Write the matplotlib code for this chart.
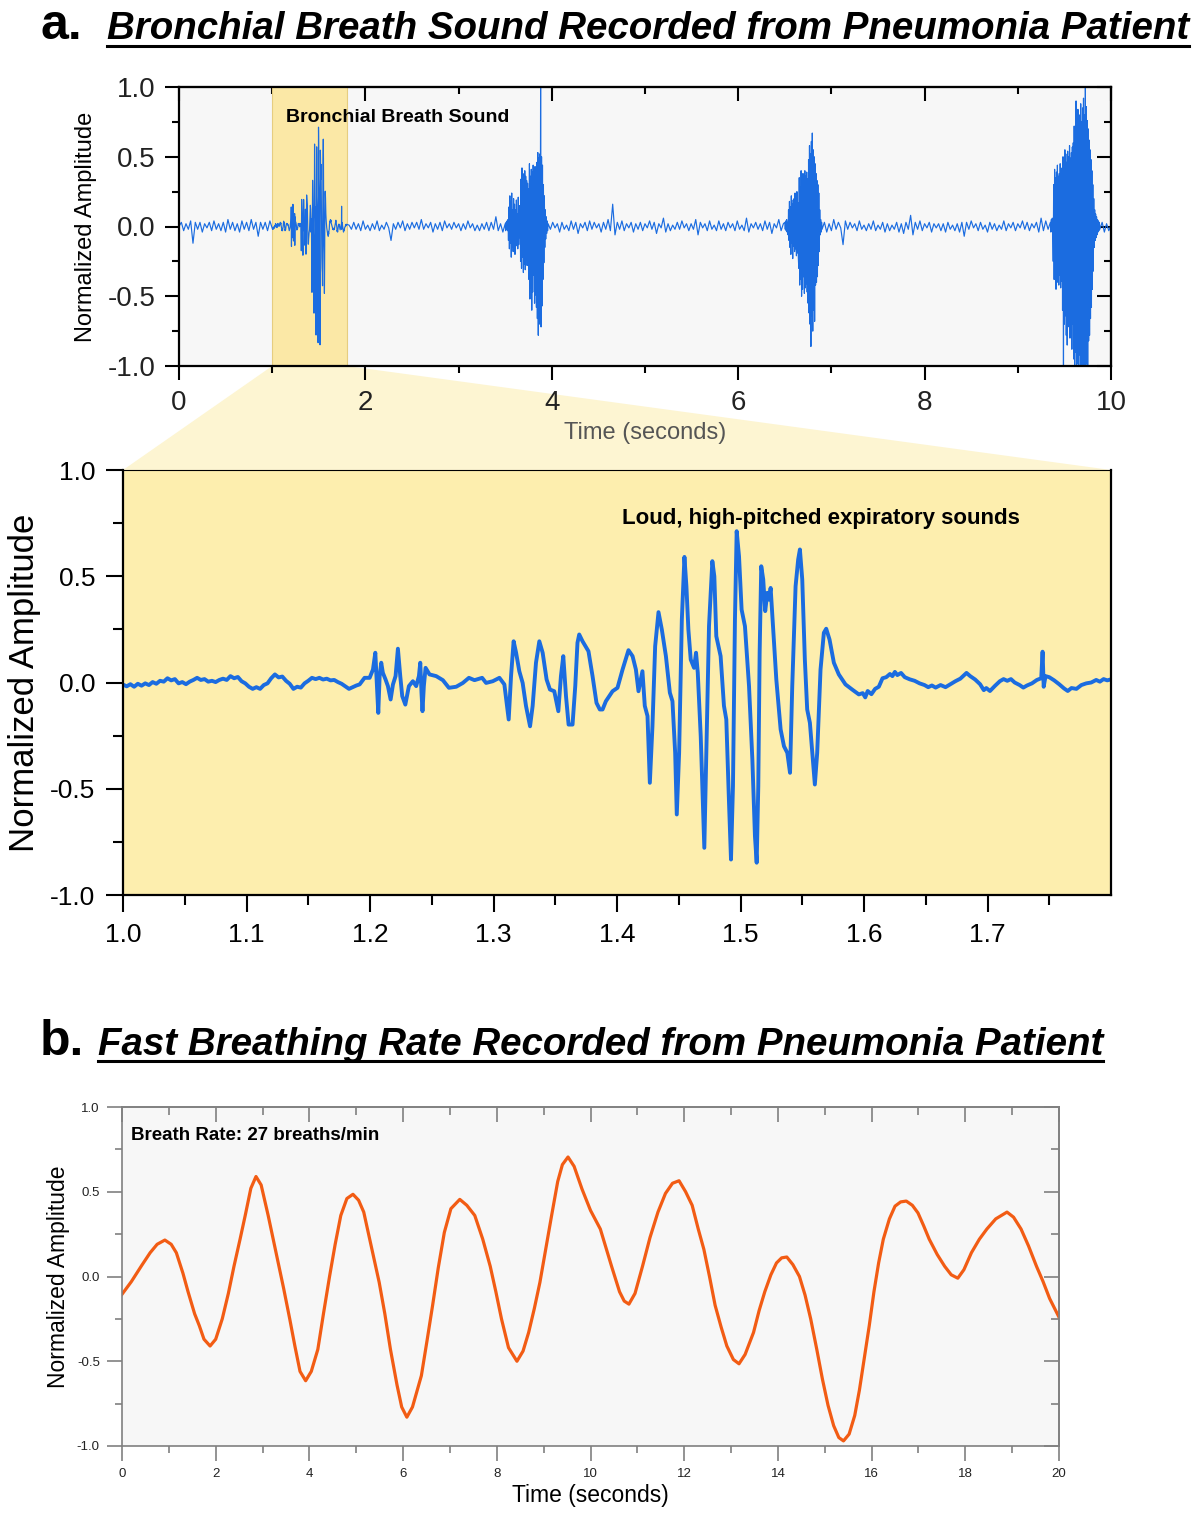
import numpy as np
import matplotlib
matplotlib.use("Agg")
import matplotlib.pyplot as plt
from matplotlib.patches import Polygon
from matplotlib.lines import Line2D
from matplotlib.ticker import MultipleLocator, FixedLocator, FormatStrFormatter

plt.rcParams["font.family"] = ["Liberation Sans", "DejaVu Sans"]

# ---------------------------------------------------------------
# Panel a (top): 10 s sound recording, values in 1/100 of full scale
# quiet stretches are sampled every 0.025 s, bursts every 0.005 s
# ---------------------------------------------------------------
quiet_a = [0, 3, -3, 2, -2, 4, -12, 3, -2, 3, -4, 2, -1, 3, -3, 4, -2, 2, -3, 3,
           -4, 5, -2, 3, -3, 2, -4, 4, -2, 3, -3, 5, -2, 3, -7, 3, -2, 3, -3, 4]
quiet_b = [1, -2, 3, -2, 2, -3, 4, -2, 1, -3, 2, -2, 4, -3, 1, -2, 3, -1, -10, 2,
           -2, 3, -1, 4, -3, 2, -2, 3, -1, 3, -2, 5, -2, 2, -1, 3, -4, 2, -2, 3,
           -3, 4, -1, 2, -2, 3, -1, 2, -3, 2, -2, 4, -1, 2, -3, 1, -3, 2, -2, 3,
           -3, 3, -2, 7, -3, 2, -4]
burst_2 = [2, -3, 3, -2, 4, -3, 5,
           -10, 14, -16, 22, -12, 18, -22, 24, -15, 12, -18, 20, -9, 16, -20, 12, -14, 19,
           -11, 9, -16, 21, -13, 15, -8, 11,
           -25, 34, -30, 42, -22, 38, -33, 29, -27, 40, -31, 36, -24, 33, -28, 31, -20, 27,
           -38, 45, -52, 36, -44, 41, -60, 39, -47, 44, -35, 40, -55, 43, -49, 38, -58, 46,
           -66, 53, -78, 49, -70, 52, -61, 100, -72, 50, -57, 44,
           -38, 30, -26, 22, -15, 12, -9, 7, -5, 4, -3, 2]
quiet_c = [-2, 3, -1, 2, -4, 3, -2, 1, -3, 4, -2, 3, -5, 2, -1, 3, -3, 4, -2, 3,
           -1, 2, -4, 3, -2, 5, -3, 16, -6, 3, -2, 4, -3, 2, -1, 3, -4, 2, -2, 3,
           -3, 2, -1, 4, -2, 3, -5, 2, -1, 6, -4, 2, -3, 1, -2, 3, -2, 4, -1, 2,
           -3, 2, -2, 5, -6, 3, -1, 2, -3, 4, -2, 1, -3, 4, -2, 2, -3, 3, -1, 2,
           -3, 4, -2, 1, -3, 6, -4, 2, -1, 3, -2, 2, -3, 4, -2, 3, -5, 2, -1, 5, -3, 2]
burst_3 = [3, -2, 4, -3, 5, -4, 3, -6,
           12, -10, 18, -15, 14, -20, 22, -12, 16, -23, 19, -14, 20, -18, 24, -16, 13,
           -21, 25, -19, 17, -22,
           -30, 35, -42, 28, -38, 40, -50, 33, -45, 38, -36, 31, -48, 40, -44, 36, -41,
           39, -47, 34,
           -55, 48, -62, 58, -70, 52, -86, 61, -64, 67, -75, 55, -60, 50, -68, 45,
           -42, 38, -40, 33, -36, 30, -28, 24, -18, 12,
           -6, 5, -4, 3, -2]
quiet_d = [3, -4, 2, -3, 5, -2, 3, -1, -13, 4, -2, 3, -1, 2, -3, 4, -2, 1, -3, 2,
           -2, 4, -3, 1, -2, 3, -4, 2, -3, 1, -2, 3, -4, 2, -5, 3, -2, 8, -6, 3,
           -2, 4, -3, 2, -1, 3, -4, 2, -1, 2, -3, 2, -4, 3, -2, 1, -3, 2, -4, 3,
           -7, 3, -2, 4, -1, 2, -3, 3, -2, 1, -4, 3, -2, 2, -3, 1, -2, 4, -3, 2,
           -1, 3, -3, 2, -1, 4, -2, 3, -3, 2, -1, 3, -4, 6, -3, 4, -2]
burst_4 = [3, -4, 5, -3, 6, -5,
           -25, 30, -38, 41, -30, 35, -45, 39, -33, 44, -40, 36, -42, 38, -35, 45, -44,
           33, -39, 42,
           -60, 50, -105, 48, -70, 55, -64, 52, -78, 46, -85, 54, -66, 50, -72, 58, -80,
           49, -75, 53, -88, 57, -70, 60,
           -95, 72, -105, 68, -90, 90, -105, 78, -98, 84, -105, 70, -92, 80, -105, 88,
           -100, 75, -105, 85, -96, 92, -105, 80, -102, 102, -105, 86, -98, 76, -105, 70,
           -82, 62, -78, 55, -66, 48, -58, 40, -45, 30, -32, 20,
           -15, 12, -10, 9, -8, 7, -6, 5, -4, 4, -3, 3, -2]
quiet_e = [3, -4, 2, -3, 1]

# (start, end) time of each stretch above, seconds
spans = [(0.0, 0.975), (1.825, 3.475), (3.50, 3.96), (3.985, 6.485),
         (6.50, 6.90), (6.925, 9.325), (9.35, 9.88), (9.905, 10.0)]

# zoomed bronchial breath sound, 1.0 - 1.8 s (time, amplitude)
zoom_pts = [
    # quiet lead-in
    (1.000, -0.010), (1.003, -0.018), (1.006, -0.008), (1.009, -0.020), (1.012, -0.006),
    (1.015, -0.015), (1.018, -0.004), (1.021, -0.012), (1.024, 0.002), (1.027, -0.006),
    (1.030, 0.008), (1.033, 0.004), (1.036, 0.020), (1.039, 0.010), (1.042, 0.016),
    (1.045, -0.004), (1.048, 0.002), (1.051, -0.008), (1.054, 0.004), (1.057, 0.012),
    (1.060, 0.022), (1.063, 0.012), (1.066, 0.016), (1.069, 0.004), (1.072, 0.008),
    (1.075, 0.002), (1.078, 0.012), (1.081, 0.018), (1.084, 0.012), (1.087, 0.030),
    (1.090, 0.020), (1.093, 0.026), (1.096, 0.006), (1.099, -0.004), (1.102, -0.020),
    (1.105, -0.030), (1.108, -0.022), (1.111, -0.030), (1.114, -0.012), (1.117, -0.004),
    (1.120, 0.020), (1.123, 0.038), (1.126, 0.024), (1.129, 0.028), (1.132, 0.008),
    (1.135, -0.006), (1.138, -0.030), (1.141, -0.020), (1.144, -0.024), (1.147, -0.004),
    (1.150, 0.008), (1.153, 0.022), (1.156, 0.016), (1.159, 0.022), (1.162, 0.014),
    (1.165, 0.018), (1.168, 0.010), (1.171, 0.012), (1.174, 0.002), (1.177, -0.006),
    (1.180, -0.018), (1.183, -0.030), (1.186, -0.022), (1.189, -0.014),
    # first small crackles, 1.19 - 1.39
    (1.1916, -0.009), (1.1956, 0.022), (1.1997, 0.022), (1.2024, 0.061), (1.2043, 0.140),
    (1.2056, -0.017), (1.2067, -0.143), (1.2078, 0.030), (1.2091, 0.093), (1.2104, 0.046),
    (1.2126, 0.014), (1.2145, -0.017), (1.2167, -0.080), (1.2186, -0.009), (1.2207, 0.030),
    (1.2226, 0.159), (1.2245, 0.030), (1.2261, -0.064), (1.2286, -0.104), (1.2315, -0.017),
    (1.2347, 0.006), (1.2374, -0.017), (1.2396, 0.030), (1.2407, 0.093), (1.2417, -0.048),
    (1.2425, -0.135), (1.2436, -0.017), (1.2450, 0.069), (1.2482, 0.038), (1.2536, 0.030),
    (1.2590, 0.011), (1.2639, -0.025), (1.2698, -0.020), (1.2752, -0.002), (1.2801, 0.022),
    (1.2846, 0.011), (1.2908, 0.022), (1.2940, -0.002), (1.2994, 0.006), (1.3048, 0.022),
    (1.3088, -0.009), (1.3123, -0.174), (1.3142, 0.030), (1.3163, 0.194), (1.3183, 0.140),
    (1.3209, 0.053), (1.3236, -0.002), (1.3263, -0.110), (1.3296, -0.206), (1.3317, -0.110),
    (1.3344, 0.093), (1.3371, 0.194), (1.3398, 0.140), (1.3430, 0.014), (1.3457, -0.033),
    (1.3492, -0.041), (1.3525, -0.135), (1.3546, 0.030), (1.3565, 0.124), (1.3587, -0.064),
    (1.3608, -0.198), (1.3640, -0.198), (1.3662, -0.017), (1.3680, 0.187), (1.3694, 0.226),
    (1.3721, 0.194), (1.3769, 0.147), (1.3802, 0.030), (1.3834, -0.096), (1.3861, -0.127),
    (1.3883, -0.127),
    # loud expiratory burst, 1.39 - 1.60
    (1.3910, -0.088), (1.3964, -0.041), (1.4004, -0.025), (1.4045, 0.061), (1.4093, 0.152),
    (1.4126, 0.124), (1.4153, 0.061), (1.4174, -0.041), (1.4193, 0.014), (1.4206, 0.053),
    (1.4225, -0.110), (1.4247, -0.158), (1.4266, -0.472), (1.4287, -0.206), (1.4309, 0.171),
    (1.4336, 0.331), (1.4363, 0.249), (1.4396, 0.124), (1.4428, -0.048), (1.4449, -0.088),
    (1.4471, -0.331), (1.4484, -0.621), (1.4503, -0.331), (1.4525, 0.296), (1.4546, 0.591),
    (1.4562, 0.453), (1.4578, 0.249), (1.4597, 0.108), (1.4624, 0.069), (1.4640, 0.140),
    (1.4654, 0.046), (1.4678, -0.253), (1.4699, -0.645), (1.4707, -0.778), (1.4723, -0.331),
    (1.4745, 0.265), (1.4772, 0.571), (1.4788, 0.500), (1.4804, 0.218), (1.4839, 0.124),
    (1.4866, -0.110), (1.4885, -0.174), (1.4907, -0.566), (1.4923, -0.833), (1.4939, -0.488),
    (1.4955, 0.296), (1.4969, 0.712), (1.4988, 0.594), (1.5009, 0.343), (1.5036, 0.265),
    (1.5069, -0.017), (1.5096, -0.362), (1.5117, -0.723), (1.5131, -0.848), (1.5144, -0.488),
    (1.5155, 0.140), (1.5168, 0.547), (1.5184, 0.485), (1.5200, 0.336), (1.5217, 0.422),
    (1.5230, 0.390), (1.5244, 0.445), (1.5263, 0.265), (1.5290, 0.014), (1.5325, -0.221),
    (1.5352, -0.300), (1.5379, -0.331), (1.5401, -0.425), (1.5419, -0.017), (1.5446, 0.453),
    (1.5467, 0.579), (1.5481, 0.626), (1.5500, 0.485), (1.5521, 0.108), (1.5540, -0.127),
    (1.5562, -0.190), (1.5586, -0.362), (1.5602, -0.480), (1.5621, -0.331), (1.5648, 0.061),
    (1.5675, 0.234), (1.5694, 0.253), (1.5721, 0.202), (1.5756, 0.093), (1.5796, 0.038),
    (1.5850, -0.009), (1.5904, -0.033), (1.5958, -0.056),
    # quiet tail
    (1.599, -0.050), (1.601, -0.070), (1.603, -0.040), (1.606, -0.055), (1.609, -0.030),
    (1.612, -0.020), (1.615, 0.020), (1.618, 0.025), (1.621, 0.040), (1.623, 0.030),
    (1.625, 0.050), (1.627, 0.035), (1.630, 0.045), (1.633, 0.025), (1.637, 0.015),
    (1.641, 0.008), (1.645, -0.004), (1.649, -0.012), (1.652, -0.022), (1.655, -0.014),
    (1.658, -0.024), (1.662, -0.012), (1.666, -0.022), (1.670, -0.008), (1.674, 0.006),
    (1.678, 0.018), (1.681, 0.034), (1.683, 0.045), (1.686, 0.030), (1.690, 0.014),
    (1.694, -0.008), (1.697, -0.036), (1.699, -0.026), (1.702, -0.040), (1.706, -0.016),
    (1.710, 0.006), (1.713, 0.016), (1.716, 0.008), (1.719, 0.016), (1.722, 0.000),
    (1.726, -0.012), (1.729, -0.024), (1.732, -0.014), (1.736, -0.004), (1.740, 0.012),
    (1.7435, 0.020), (1.7446, 0.145), (1.7455, -0.020), (1.747, 0.030), (1.750, 0.025),
    (1.754, 0.010), (1.758, -0.008), (1.762, -0.028), (1.765, -0.040), (1.768, -0.026),
    (1.772, -0.030), (1.776, -0.012), (1.780, -0.004), (1.784, 0.000), (1.788, 0.012),
    (1.791, 0.004), (1.794, 0.016), (1.797, 0.010), (1.800, 0.015),
]

# ---------------------------------------------------------------
# Panel b: breathing signal over 20 s
# ---------------------------------------------------------------
breath_t = [0.0, 0.2, 0.42, 0.6, 0.75, 0.915, 1.05, 1.16, 1.3, 1.41, 1.55, 1.65, 1.75,
            1.88, 2.0, 2.14, 2.27, 2.39, 2.52, 2.63, 2.75, 2.86, 2.97, 3.12, 3.28, 3.45,
            3.58, 3.69, 3.80, 3.92, 4.04, 4.18, 4.30, 4.43, 4.55, 4.67, 4.80, 4.93, 5.05,
            5.16, 5.32, 5.49, 5.61, 5.73, 5.87, 5.97, 6.08, 6.20, 6.39, 6.51, 6.63, 6.75,
            6.88, 7.02, 7.21, 7.36, 7.53, 7.70, 7.86, 7.98, 8.10, 8.25, 8.43, 8.56, 8.68,
            8.80, 8.92, 9.05, 9.17, 9.30, 9.40, 9.52, 9.65, 9.82, 10.0, 10.21, 10.45,
            10.62, 10.72, 10.82, 10.95, 11.11, 11.27, 11.44, 11.60, 11.75, 11.89, 12.03,
            12.17, 12.30, 12.42, 12.54, 12.66, 12.79, 12.91, 13.05, 13.17, 13.30, 13.48,
            13.60, 13.72, 13.85, 13.97, 14.08, 14.19, 14.32, 14.46, 14.58, 14.70, 14.83,
            14.95, 15.07, 15.19, 15.30, 15.40, 15.52, 15.64, 15.74, 15.84, 15.95, 16.05,
            16.15, 16.25, 16.38, 16.50, 16.62, 16.74, 16.87, 16.99, 17.11, 17.23, 17.40,
            17.56, 17.70, 17.84, 17.97, 18.13, 18.30, 18.46, 18.65, 18.89, 19.03, 19.19,
            19.35, 19.52, 19.66, 19.80, 20.0]
breath_v = [-0.105, -0.03, 0.065, 0.14, 0.19, 0.215, 0.19, 0.14, 0.02, -0.09, -0.22,
            -0.29, -0.37, -0.41, -0.37, -0.25, -0.10, 0.06, 0.22, 0.36, 0.52, 0.59, 0.54,
            0.36, 0.15, -0.07, -0.25, -0.41, -0.56, -0.615, -0.56, -0.43, -0.22, 0.0, 0.19,
            0.36, 0.46, 0.485, 0.45, 0.38, 0.18, -0.035, -0.22, -0.43, -0.64, -0.77, -0.83,
            -0.77, -0.585, -0.38, -0.17, 0.05, 0.26, 0.40, 0.455, 0.42, 0.36, 0.22, 0.06,
            -0.09, -0.25, -0.42, -0.50, -0.44, -0.33, -0.19, -0.035, 0.17, 0.36, 0.56, 0.66,
            0.705, 0.65, 0.515, 0.39, 0.28, 0.06, -0.09, -0.145, -0.163, -0.10, 0.06, 0.23,
            0.38, 0.49, 0.55, 0.565, 0.50, 0.42, 0.28, 0.16, 0.0, -0.17, -0.30, -0.41, -0.49,
            -0.515, -0.46, -0.33, -0.20, -0.09, 0.01, 0.08, 0.11, 0.115, 0.07, 0.0, -0.11,
            -0.25, -0.43, -0.605, -0.76, -0.88, -0.95, -0.97, -0.93, -0.82, -0.67, -0.49,
            -0.29, -0.09, 0.08, 0.22, 0.34, 0.415, 0.44, 0.445, 0.42, 0.375, 0.30, 0.22,
            0.13, 0.06, 0.01, -0.01, 0.04, 0.14, 0.22, 0.28, 0.34, 0.38, 0.35, 0.28, 0.18,
            0.06, -0.03, -0.13, -0.24]

BLUE = "#1b6ce0"
ORANGE = "#f25c14"
W, H = 1200, 1521

# build the full 10 s trace
zoom_t, zoom_v = np.array(zoom_pts).T
pieces = [quiet_a, quiet_b, burst_2, quiet_c, burst_3, quiet_d, burst_4, quiet_e]
t_parts, v_parts = [], []
for (t0, t1), vals in zip(spans, pieces):
    t_parts.append(np.linspace(t0, t1, len(vals)))
    v_parts.append(np.array(vals) / 100.0)
t_parts.insert(1, zoom_t)
v_parts.insert(1, zoom_v)
full_t = np.concatenate(t_parts)
full_v = np.concatenate(v_parts)


def inner_ticks(ax, xmaj, xmin, ymaj, ymin, color, lw, lmaj, lmin):
    # Origin-style: ticks pointing inwards on the top and right edges
    top = ax.secondary_xaxis("top")
    top.xaxis.set_major_locator(MultipleLocator(xmaj))
    top.xaxis.set_minor_locator(MultipleLocator(xmin))
    top.tick_params(which="both", direction="in", labeltop=False, color=color, width=lw)
    top.tick_params(which="major", length=lmaj)
    top.tick_params(which="minor", length=lmin)
    right = ax.secondary_yaxis("right")
    right.yaxis.set_major_locator(MultipleLocator(ymaj))
    right.yaxis.set_minor_locator(MultipleLocator(ymin))
    right.tick_params(which="both", direction="in", labelright=False, color=color, width=lw)
    right.tick_params(which="major", length=lmaj)
    right.tick_params(which="minor", length=lmin)
    for sec in (top, right):
        for s in sec.spines.values():
            s.set_linewidth(lw)
            s.set_color(color)


fig = plt.figure(figsize=(12, 15.21), dpi=100)

# ---------------- top: full recording ----------------
ax1 = fig.add_axes([179 / W, 1 - 366 / H, 932 / W, 279 / H])
ax1.set_facecolor("#f7f7f7")
ax1.axvspan(1.0, 1.8, facecolor="#fbe8a6", edgecolor="#e6cd80", lw=0.8, zorder=1)
ax1.plot(full_t, full_v, color=BLUE, lw=0.85, zorder=2)
ax1.set_xlim(0, 10)
ax1.set_ylim(-1, 1)
ax1.xaxis.set_major_locator(MultipleLocator(2))
ax1.xaxis.set_minor_locator(MultipleLocator(1))
ax1.yaxis.set_major_locator(MultipleLocator(0.5))
ax1.yaxis.set_minor_locator(MultipleLocator(0.25))
ax1.yaxis.set_major_formatter(FormatStrFormatter("%.1f"))
ax1.tick_params(which="both", direction="out", width=1.5, color="black")
ax1.tick_params(which="major", length=10, labelsize=20, pad=7, labelcolor="#222222")
ax1.tick_params(which="minor", length=5)
for s in ax1.spines.values():
    s.set_linewidth(1.6)
inner_ticks(ax1, 2, 1, 0.5, 0.25, "black", 1.5, 10, 5)
ax1.set_ylabel("Normalized Amplitude", fontsize=17, va="center")
ax1.yaxis.set_label_coords(-0.100, 0.5)
ax1.set_xlabel("Time (seconds)", fontsize=17, color="#555555", va="center")
ax1.xaxis.set_label_coords(0.5, -0.240)
ax1.text(0.1148, 0.89, "Bronchial Breath Sound", transform=ax1.transAxes,
         fontsize=14, fontweight="bold", ha="left", va="center", zorder=3)

# ---------------- middle: zoomed section ----------------
ax2 = fig.add_axes([123 / W, 1 - 895 / H, 988 / W, 425 / H])
ax2.set_facecolor("#fdeeae")
ax2.plot(zoom_t, zoom_v, color=BLUE, lw=2.8, solid_joinstyle="round")
ax2.set_xlim(1.0, 1.8)
ax2.set_ylim(-1, 1)
ax2.xaxis.set_major_locator(FixedLocator([1.0, 1.1, 1.2, 1.3, 1.4, 1.5, 1.6, 1.7]))
ax2.xaxis.set_minor_locator(FixedLocator([1.05, 1.15, 1.25, 1.35, 1.45, 1.55, 1.65, 1.75]))
ax2.xaxis.set_major_formatter(FormatStrFormatter("%.1f"))
ax2.yaxis.set_major_locator(MultipleLocator(0.5))
ax2.yaxis.set_minor_locator(MultipleLocator(0.25))
ax2.yaxis.set_major_formatter(FormatStrFormatter("%.1f"))
ax2.tick_params(which="both", direction="out", width=1.5)
ax2.tick_params(which="major", length=12, labelsize=19, pad=8)
ax2.tick_params(which="minor", length=7)
for s in ax2.spines.values():
    s.set_linewidth(1.6)
ax2.spines["top"].set_linewidth(0.8)
ax2.set_ylabel("Normalized Amplitude", fontsize=25, va="center")
ax2.yaxis.set_label_coords(-0.100, 0.5)
ax2.text(0.7065, 0.887, "Loud, high-pitched expiratory sounds", transform=ax2.transAxes,
         fontsize=16, fontweight="bold", ha="center", va="center")

# connector between the highlighted span and the zoomed axes
to_fig = fig.transFigure.inverted()
corners = np.vstack([
    to_fig.transform(ax1.transData.transform([(1.0, -1.0), (1.8, -1.0)])),
    to_fig.transform(ax2.transAxes.transform([(1.0, 1.0), (0.0, 1.0)])),
])
fig.add_artist(Polygon(corners, closed=True, transform=fig.transFigure,
                       facecolor="#fdf5d2", edgecolor="none", zorder=-1))

# ---------------- bottom: breathing rate ----------------
ax3 = fig.add_axes([122 / W, 1 - 1446 / H, 937 / W, 339 / H])
ax3.set_facecolor("#f7f7f7")
ax3.plot(breath_t, breath_v, color=ORANGE, lw=2.3, solid_joinstyle="round")
ax3.set_xlim(0, 20)
ax3.set_ylim(-1, 1)
ax3.xaxis.set_major_locator(MultipleLocator(2))
ax3.xaxis.set_minor_locator(MultipleLocator(1))
ax3.yaxis.set_major_locator(MultipleLocator(0.5))
ax3.yaxis.set_minor_locator(MultipleLocator(0.25))
ax3.yaxis.set_major_formatter(FormatStrFormatter("%.1f"))
ax3.tick_params(which="both", direction="out", width=1.2, color="#808080")
ax3.tick_params(which="major", length=11, labelsize=9.5, pad=5, labelcolor="#222222")
ax3.tick_params(which="minor", length=5)
for s in ax3.spines.values():
    s.set_linewidth(1.2)
    s.set_color("#808080")
inner_ticks(ax3, 2, 1, 0.5, 0.25, "#808080", 1.2, 11, 6)
ax3.set_ylabel("Normalized Amplitude", fontsize=16.5, va="center")
ax3.yaxis.set_label_coords(-0.068, 0.5)
ax3.set_xlabel("Time (seconds)", fontsize=16.5, va="center")
ax3.xaxis.set_label_coords(0.5, -0.145)
ax3.text(0.0096, 0.917, "Breath Rate: 27 breaths/min", transform=ax3.transAxes,
         fontsize=13.5, fontweight="bold", ha="left", va="center")

# ---------------- panel headings ----------------
fig.text(40 / W, 1 - 39 / H, "a.", fontsize=36, fontweight="bold", va="baseline")
title_a = fig.text(107 / W, 1 - 39 / H, "Bronchial Breath Sound Recorded from Pneumonia Patient",
                   fontsize=27.7, fontweight="bold", fontstyle="italic", va="baseline")
fig.text(40 / W, 1 - 1055 / H, "b.", fontsize=36, fontweight="bold", va="baseline")
title_b = fig.text(98 / W, 1 - 1055 / H, "Fast Breathing Rate Recorded from Pneumonia Patient",
                   fontsize=27.7, fontweight="bold", fontstyle="italic", va="baseline")

# underline the headings
fig.canvas.draw()
renderer = fig.canvas.get_renderer()
for txt, y_px in ((title_a, 46), (title_b, 1061)):
    bb = txt.get_window_extent(renderer)
    fig.add_artist(Line2D([bb.x0 / W, bb.x1 / W], [1 - y_px / H, 1 - y_px / H],
                          transform=fig.transFigure, color="black", lw=2.2))

fig.savefig("out.png", dpi=100)
